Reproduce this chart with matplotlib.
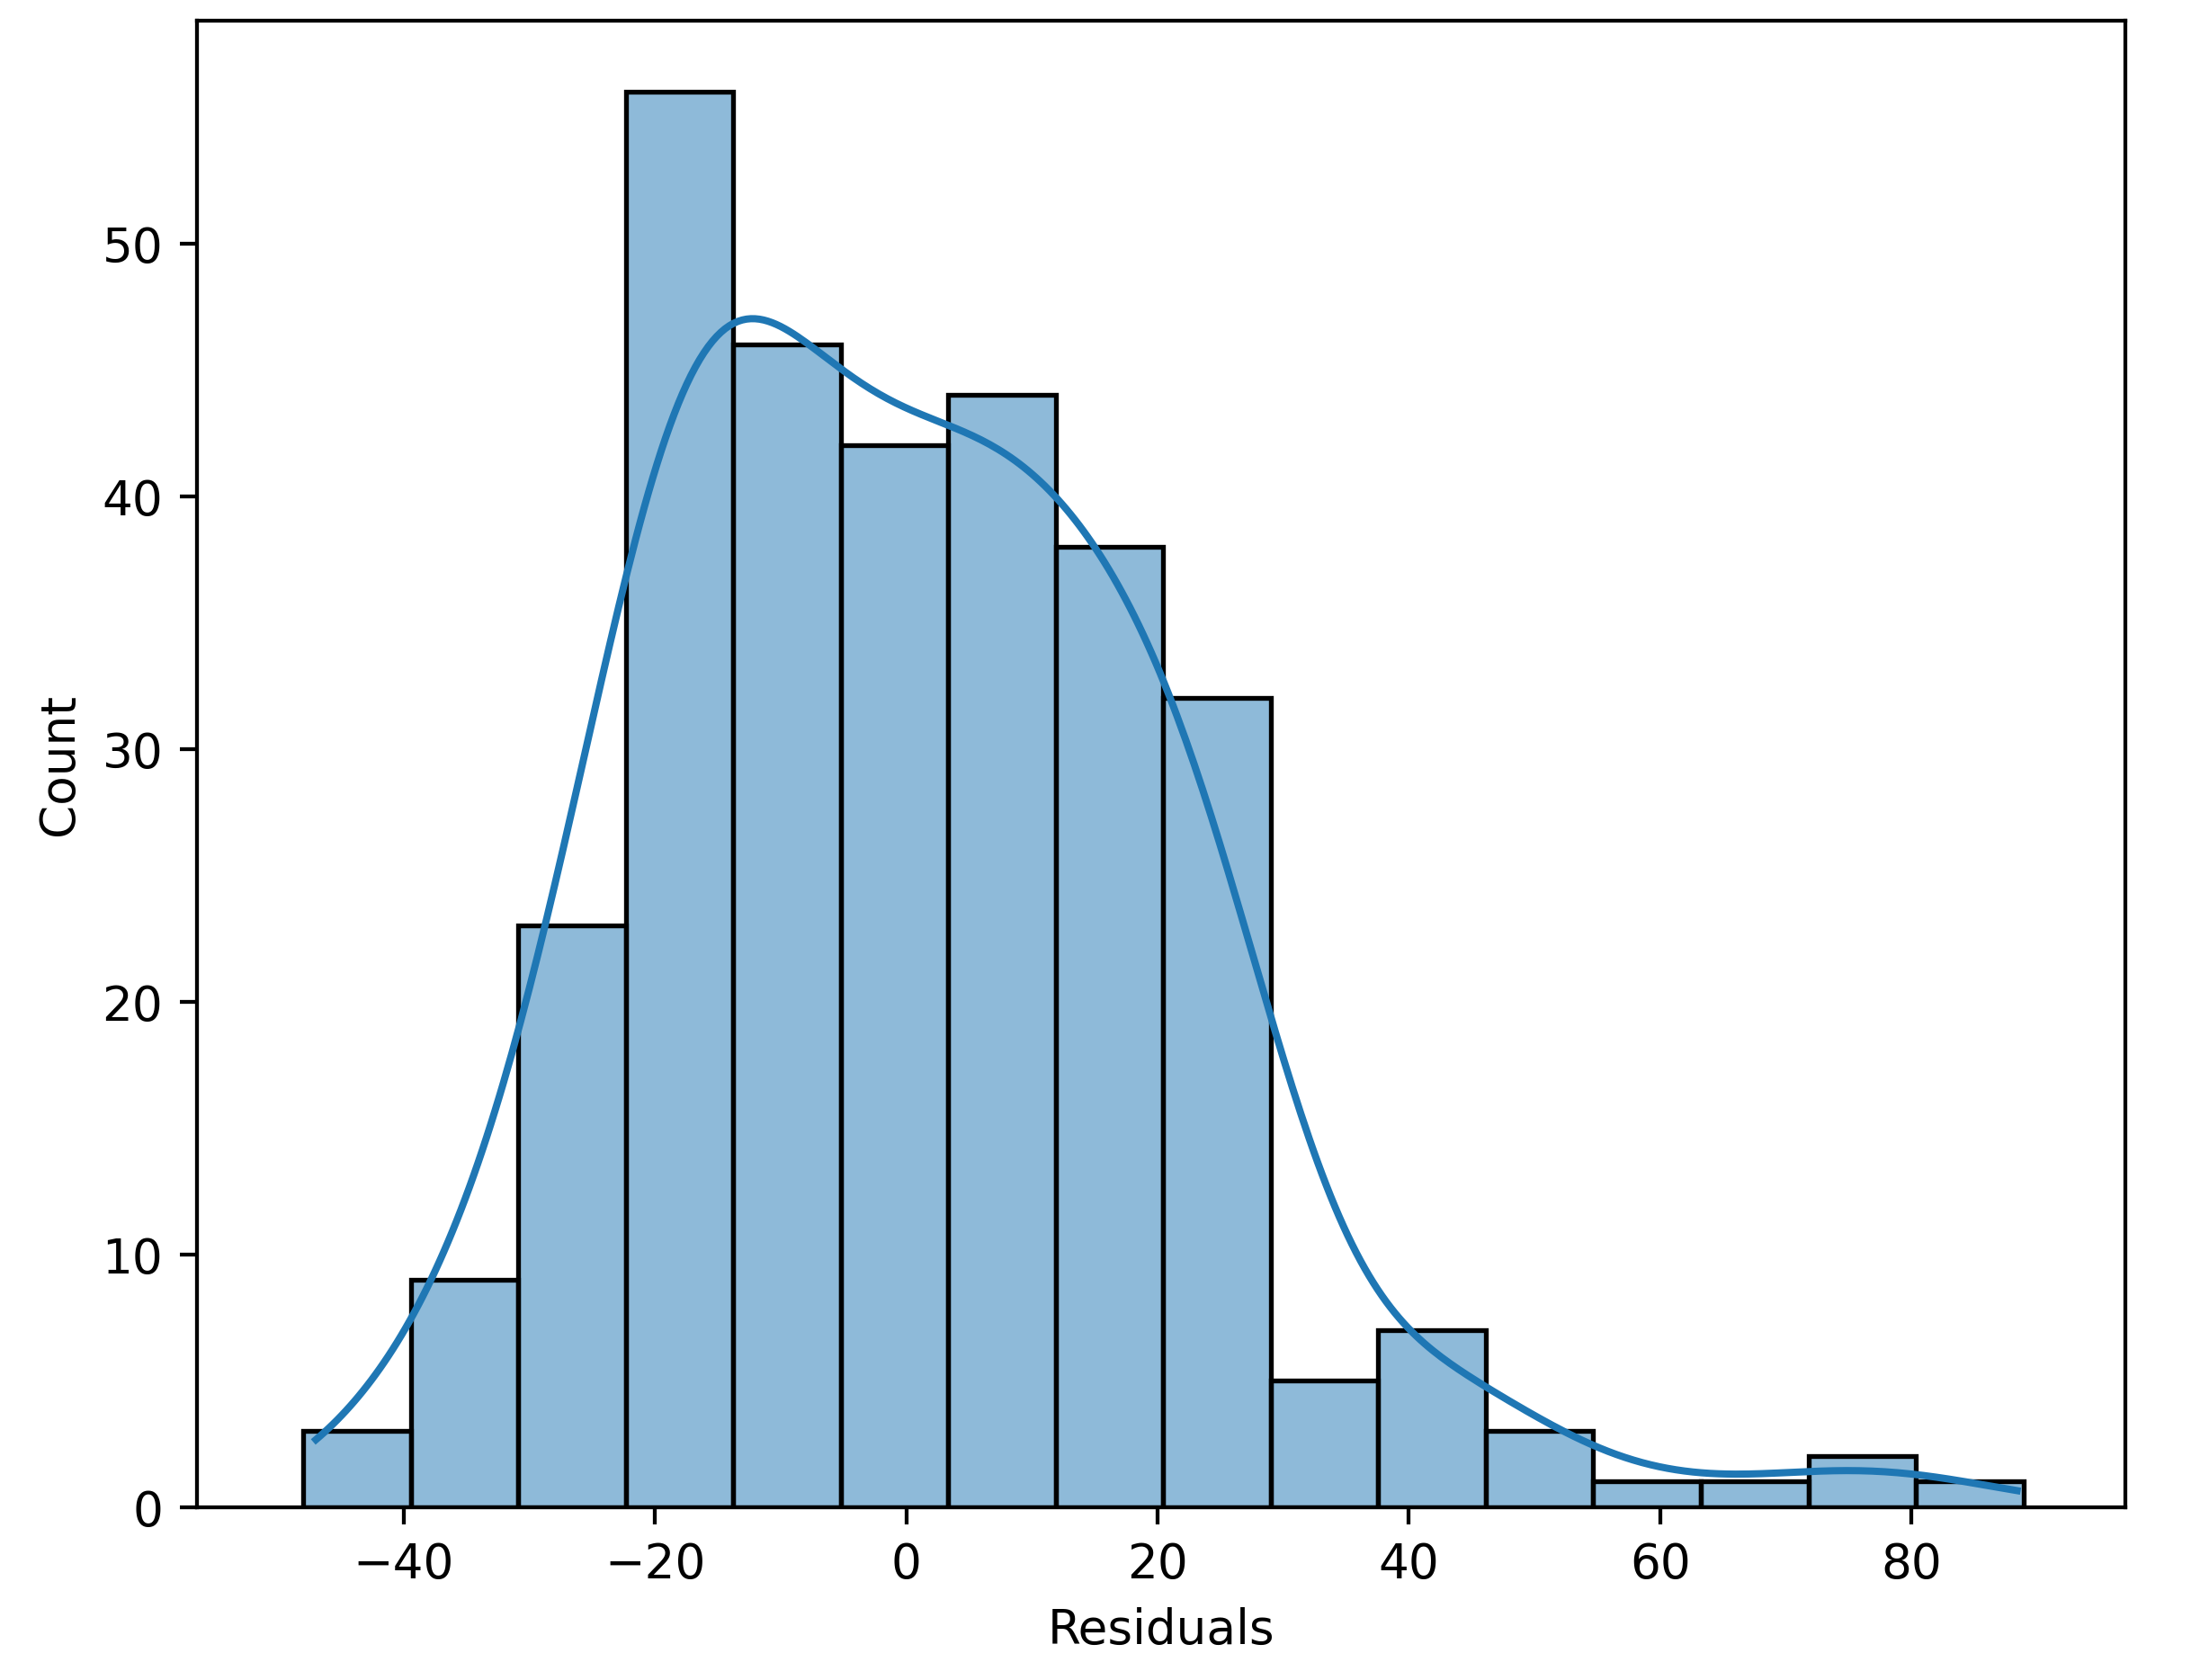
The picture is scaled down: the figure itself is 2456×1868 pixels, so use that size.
import numpy as np
import matplotlib
matplotlib.use("Agg")
import matplotlib.pyplot as plt

bin_start = -48.0
bin_end = 88.9
counts = [3, 9, 23, 56, 46, 42, 44, 38, 32, 5, 7, 3, 1, 1, 2, 1]
xticks = [-40, -20, 0, 20, 40, 60, 80]
yticks = [0, 10, 20, 30, 40, 50]

counts = np.array(counts, dtype=float)
edges = np.linspace(bin_start, bin_end, len(counts) + 1)
width = edges[1] - edges[0]
centers = (edges[:-1] + edges[1:]) / 2

fig = plt.figure(figsize=(6.4, 4.87), dpi=383.75)
ax = fig.add_axes([0.089, 0.103, 0.873, 0.884])
ax.bar(edges[:-1], counts, width=width, align="edge", color=(0.122, 0.467, 0.706, 0.5),
       edgecolor="black", linewidth=1.0)

# KDE from bin counts (smoothed), scaled to counts
bw = 7.0
xs = np.linspace(edges[0] + 1, edges[-1] - 0.5, 400)
# spread each bin's mass uniformly-ish using sub-points
sub = np.linspace(-0.4, 0.4, 5) * width
pts = (centers[:, None] + sub[None, :]).ravel()
wts = np.repeat(counts / 5, 5)
dens = (wts[None, :] * np.exp(-0.5 * ((xs[:, None] - pts[None, :]) / bw) ** 2)).sum(1)
dens /= (bw * np.sqrt(2 * np.pi))
ax.plot(xs, dens * width, color="#1f77b4", linewidth=1.5)

ax.set_xticks(xticks)
ax.set_yticks(yticks)
ax.set_xlim(-56.5, 97.0)
ax.set_ylim(0, 58.8)
ax.set_xlabel("Residuals")
ax.set_ylabel("Count")
fig.savefig("out.png", dpi=383.75)
